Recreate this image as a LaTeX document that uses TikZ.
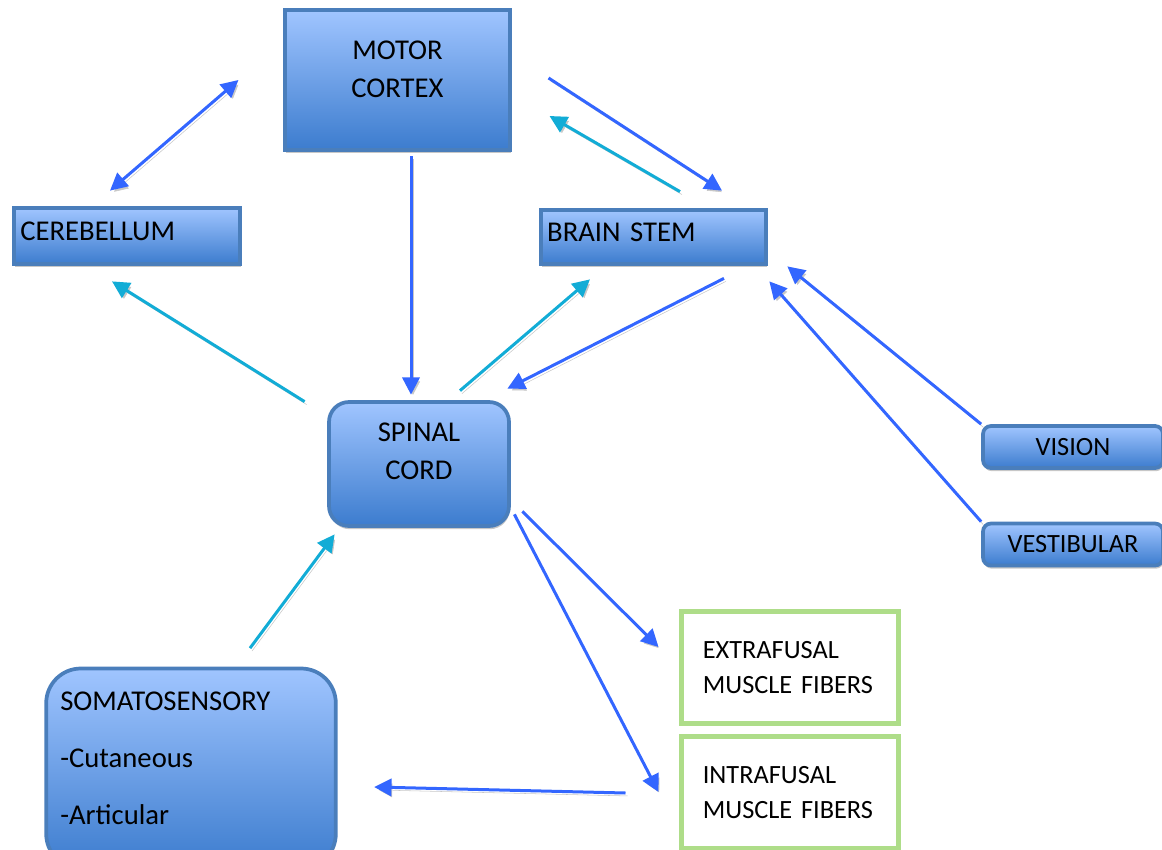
\documentclass[tikz,border=0pt]{standalone}
\usepackage{fontspec}
\setmainfont{Carlito}
\usepackage{xcolor}
\usetikzlibrary{arrows.meta, positioning, calc, shadows, backgrounds}

\definecolor{boxedge}{RGB}{74,126,187}
\definecolor{boxtop}{RGB}{160,197,255}
\definecolor{boxbot}{RGB}{60,124,206}
\definecolor{musclegreen}{RGB}{174,221,137}
\definecolor{motorblue}{RGB}{51,102,255}
\definecolor{senscyan}{RGB}{18,172,214}

\begin{document}
\begin{tikzpicture}[
    x=0.75pt, y=-0.75pt,
    >={Triangle[length=13pt, width=13pt]},
    region/.style={rectangle, draw=boxedge, line width=2.8pt, top color=boxtop, bottom color=boxbot, drop shadow={shadow xshift=0.6pt, shadow yshift=-2.4pt, fill=black!22, opacity=1}, font=\fontsize{21.5}{28.5}\selectfont},
    input/.style={region, rounded corners=6pt, minimum width=135pt, minimum height=31.5pt, font=\fontsize{19.75}{24}\selectfont},
    muscle/.style={rectangle, draw=musclegreen, line width=3.75pt, fill=white, minimum height=84pt, text width=130.75pt, inner xsep=16pt, align=left, font=\fontsize{19.75}{26.25}\selectfont},
    link/.style={line width=2.25pt, preaction={draw=black!22, transform canvas={shift={(1.5pt,-2.2pt)}}}}
]
    \useasboundingbox (0,0) rectangle (1162,849);
    \clip (0,0) rectangle (1162,849);

    % TOP: BRAIN
    \node (Motor) [region, minimum width=169pt, minimum height=105pt, text width=120pt, align=center, text height=14pt, text depth=45pt] at (397.5,80) {MOTOR\\CORTEX};
    \node (Cerebellum) [region, text width=160pt, inner xsep=4.6pt, minimum height=42pt, align=left, text height=14pt, text depth=7pt] at (127,236) {CEREBELLUM};
    \node (BrainStem) [region, text width=159.5pt, inner xsep=4.6pt, minimum height=40.5pt, align=left, text height=14pt, text depth=7pt] at (653.5,237) {BRAIN STEM};

    % MIDDLE: SPINAL CORD AND INPUTS
    \node (Spinal) [region, rounded corners=15pt, minimum width=135pt, minimum height=93pt, text width=100pt, align=center, text height=14pt, text depth=48.5pt] at (419,464) {SPINAL\\CORD};
    \node (Vision) [input] at (1073,447) {VISION};
    \node (Vestibular) [input] at (1073,544.5) {VESTIBULAR};

    % BOTTOM: PERIPHERY
    \node (Somato) [region, rounded corners=26pt, text width=196pt, inner xsep=10.6pt, minimum height=150pt, align=left, text height=14pt, text depth=101.5pt] at (191,768.5) {SOMATOSENSORY\\[14.25pt]-Cutaneous\\[14.25pt]-Articular};
    \node (Extrafusal) [muscle] at (790,667.5) {EXTRAFUSAL\\MUSCLE FIBERS};
    \node (Intrafusal) [muscle] at (790,792.5) {INTRAFUSAL\\MUSCLE FIBERS};

    \begin{scope}[on background layer]
        % descending (blue)
        \draw[<->, link, motorblue] ($(Cerebellum.north)+(-17,-15.5)$) -- ($(Motor.west)+(-44.5,0)$);
        \draw[->, link, motorblue] ($(Motor.east)+(36.5,-2)$) -- ($(BrainStem.north)+(68.5,-17.5)$);
        \draw[->, link, motorblue] ($(Motor.south)+(13.5,4.5)$) -- ($(Spinal.north)+(-8,-5.5)$);
        \draw[->, link, motorblue] ($(BrainStem.south)+(70.5,12.5)$) -- ($(Spinal.north east)+(-3.5,-11.5)$);
        \draw[->, link, motorblue] (Vision.north west) -- ($(BrainStem.south east)+(19.5,0.5)$);
        \draw[->, link, motorblue] (Vestibular.north west) -- ($(BrainStem.south east)+(1.5,15.5)$);
        \draw[->, link, motorblue] ($(Spinal.south east)+(11.5,-16.5)$) -- ($(Extrafusal.west)+(-20.5,-20.5)$);
        \draw[->, link, motorblue] ($(Spinal.south east)+(3.5,-13.5)$) -- ($(Intrafusal.west)+(-20.5,-0.5)$);
        \draw[->, link, motorblue] ($(Intrafusal.west)+(-53.5,0.5)$) -- ($(Somato.east)+(36.5,18.5)$);

        % ascending (cyan)
        \draw[->, link, senscyan] ($(BrainStem.north)+(26.5,-16.5)$) -- ($(Motor.east)+(37.5,36)$);
        \draw[->, link, senscyan] ($(Spinal.north west)+(-22.5,1.5)$) -- ($(Cerebellum.south)+(-15,15.5)$);
        \draw[->, link, senscyan] ($(Spinal.north)+(41,-9.5)$) -- ($(BrainStem.south)+(-63.5,13.5)$);
        \draw[->, link, senscyan] ($(Somato.north)+(59,-18.5)$) -- ($(Spinal.south west)+(7.5,6.5)$);
    \end{scope}
\end{tikzpicture}
\end{document}
